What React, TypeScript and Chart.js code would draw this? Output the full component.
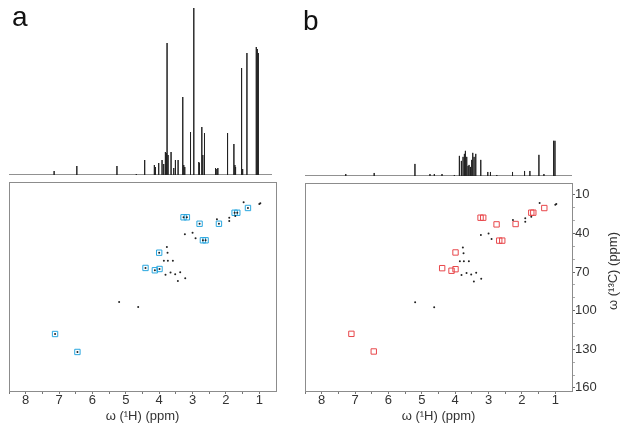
import React, { useEffect, useRef } from "react";
import { Chart, registerables } from "chart.js";
Chart.register(...registerables);

const FONT = "'Liberation Sans', Arial, Helvetica, sans-serif";

// ---- 1D 1H spectrum, panel a (ppm, intensity in arbitrary units) ----
const specA_ppm = [7.15, 6.47, 5.27, 4.69, 4.44, 4.15, 4.12, 4.02, 3.92, 3.87, 3.82, 3.79, 3.77, 3.74, 3.65, 3.57, 3.52, 3.44, 3.30, 3.27, 3.24, 3.08, 3.06, 2.97, 2.82, 2.80, 2.73, 2.70, 2.65, 2.32, 2.28, 2.25, 1.96, 1.77, 1.74, 1.72, 1.54, 1.52, 1.50, 1.38, 1.10, 1.07, 1.04];
const specA_int = [4, 9, 9, 1, 15, 10, 8, 12, 15, 11, 23, 22, 132, 20, 23, 7, 15, 15, 78, 10, 8, 43, 40, 167, 13, 12, 48, 20, 42, 7, 6, 7, 42, 31, 10, 8, 107, 6, 6, 122, 128, 126, 122];

// ---- 1D 1H spectrum, panel b ----
const specB_ppm = [7.26, 6.41, 5.19, 4.74, 4.61, 4.38, 4.01, 3.86, 3.80, 3.75, 3.71, 3.68, 3.64, 3.60, 3.57, 3.53, 3.49, 3.46, 3.42, 3.37, 3.22, 3.01, 2.93, 2.74, 2.27, 1.91, 1.75, 1.48, 1.33, 1.04, 1.00];
const specB_int = [2, 3, 12, 2, 2, 2, 1, 20, 15, 19, 22, 25, 19, 10, 11, 9, 16, 23, 19, 22, 16, 4, 4, 1, 4, 5, 5, 21, 2, 35, 35];

// ---- 2D HSQC cross peaks (1H ppm, 13C ppm) ----
const crossH = [1.47, 1.00, 0.97, 2.27, 1.90, 1.90, 1.72, 3.23, 3.00, 2.91, 3.77, 3.75, 3.86, 3.74, 3.59, 3.66, 3.81, 3.52, 3.37, 3.44, 3.22, 5.20, 4.63];
const crossC = [16.4, 17.7, 17.2, 29.6, 28.3, 30.9, 27.0, 41.2, 40.0, 44.3, 51.0, 55.4, 61.6, 61.6, 61.6, 70.8, 72.4, 72.0, 70.5, 77.3, 75.2, 93.5, 97.4];

// ---- highlighted peaks, panel a (blue) ----
const markAH = [3.27, 3.17, 2.79, 2.21, 1.74, 1.66, 1.34, 2.69, 2.61, 4.00, 4.41, 4.13, 3.99, 7.12, 6.45];
const markAC = [28.0, 28.0, 33.0, 33.0, 24.5, 24.5, 20.8, 45.8, 45.8, 55.4, 67.2, 69.0, 68.0, 118.3, 132.2];

// ---- highlighted peaks, panel b (red) ----
const markBH = [3.24, 3.16, 2.76, 2.19, 1.72, 1.66, 1.33, 2.68, 2.59, 3.99, 4.39, 3.99, 4.11, 7.11, 6.44];
const markBC = [27.8, 27.8, 33.0, 32.7, 23.9, 23.9, 20.3, 45.6, 45.6, 54.8, 67.0, 67.8, 69.0, 118.0, 131.7];

// ---- axes ----
const xMajorTicks = [1, 2, 3, 4, 5, 6, 7, 8];
const xMinorTicks = [1.5, 2.5, 3.5, 4.5, 5.5, 6.5, 7.5, 8.5];
const yMajorTicks = [10, 40, 70, 100, 130, 160];
const yMinorTicks = [20, 30, 50, 60, 80, 90, 110, 120, 140, 150];
const xRange2D = [0.5, 8.5];
const yRange2D = [0.7, 162.4];
const xTitle = "ω (¹H) (ppm)";
const yTitle = "ω (¹³C) (ppm)";
const panelLabels = ["a", "b"];

const BLUE = "#2aa7df";
const RED = "#e8474b";

function stickSeries(ppm: number[], inten: number[], hi: number, lo: number) {
  const pts: { x: number; y: number }[] = [{ x: hi, y: 0 }];
  const idx = ppm.map((_, i) => i).sort((a, b) => ppm[b] - ppm[a]);
  for (const i of idx) {
    pts.push({ x: ppm[i], y: 0 }, { x: ppm[i], y: inten[i] }, { x: ppm[i], y: 0 });
  }
  pts.push({ x: lo, y: 0 });
  return pts;
}

function pairs(h: number[], c: number[]) {
  return h.map((v, i) => ({ x: v, y: c[i] }));
}

const framePlugin = {
  id: "frame",
  afterDraw(chart: any) {
    const { ctx, chartArea: a } = chart;
    ctx.save();
    ctx.strokeStyle = "#8c8c8c";
    ctx.lineWidth = 1;
    ctx.strokeRect(Math.round(a.left) + 0.5, Math.round(a.top) + 0.5, Math.round(a.right - a.left), Math.round(a.bottom - a.top));
    ctx.restore();
  },
};

const yTitlePlugin = {
  id: "ytitle",
  afterDraw(chart: any) {
    const { ctx } = chart;
    ctx.save();
    ctx.translate(313, 96);
    ctx.rotate(-Math.PI / 2);
    ctx.fillStyle = "#333";
    ctx.font = `13px ${FONT}`;
    ctx.textAlign = "center";
    ctx.textBaseline = "middle";
    ctx.fillText(yTitle, 0, 0);
    ctx.restore();
  },
};

function xScale2D() {
  return {
    type: "linear",
    min: xRange2D[0],
    max: xRange2D[1],
    reverse: true,
    afterBuildTicks: (s: any) => {
      s.ticks = [...xMajorTicks, ...xMinorTicks].sort((p, q) => p - q).map((v) => ({ value: v }));
    },
    afterFit: (s: any) => {
      s.height = 42;
    },
    grid: { drawOnChartArea: false, drawTicks: true, tickLength: 3, color: "#777" },
    border: { display: false },
    ticks: {
      autoSkip: false,
      maxRotation: 0,
      padding: 0,
      color: "#333",
      font: { family: FONT, size: 13, lineHeight: 1 },
      callback: (v: any) => (xMajorTicks.includes(v) ? String(v) : ""),
    },
    title: {
      display: true,
      text: xTitle,
      color: "#333",
      font: { family: FONT, size: 13 },
      padding: { top: 0, bottom: 9 },
    },
  };
}

function ChartCanvas({ config, left, top, width, height }: any) {
  const ref = useRef<HTMLCanvasElement | null>(null);
  useEffect(() => {
    if (!ref.current) return;
    const ch = new Chart(ref.current, config);
    return () => ch.destroy();
  }, []);
  return (
    <canvas
      ref={ref}
      width={width}
      height={height}
      style={{ position: "absolute", left, top, width, height }}
    />
  );
}

function spectrumConfig(ppm: number[], inten: number[], hi: number, lo: number, pad: any) {
  return {
    type: "scatter",
    data: {
      datasets: [
        {
          data: stickSeries(ppm, inten, hi, lo),
          showLine: true,
          borderColor: "#222",
          borderWidth: 1,
          pointRadius: 0,
          tension: 0,
        },
      ],
    },
    options: {
      animation: false,
      responsive: false,
      layout: { padding: pad, autoPadding: false },
      plugins: { legend: { display: false }, tooltip: { enabled: false } },
      scales: {
        x: { type: "linear", display: false, min: lo, max: hi, reverse: true },
        y: { type: "linear", display: false, min: 0, max: 167 },
      },
    },
  };
}

function hsqcConfig(markH: number[], markC: number[], color: string, dotsInMarks: boolean, rightAxis: boolean) {
  const datasets: any[] = [
    {
      data: pairs(crossH, crossC),
      pointRadius: 1,
      pointBorderWidth: 0,
      backgroundColor: "#222",
      borderColor: "#222",
    },
  ];
  if (dotsInMarks) {
    datasets.push({
      data: pairs(markH, markC),
      pointRadius: 1,
      pointBorderWidth: 0,
      backgroundColor: "#222",
      borderColor: "#222",
    });
  }
  datasets.push({
    data: pairs(markH, markC),
    pointStyle: "rect",
    pointRadius: 3.8,
    borderWidth: 1,
    borderColor: color,
    backgroundColor: "rgba(255,255,255,0)",
  });
  const y: any = rightAxis
    ? {
        type: "linear",
        position: "right",
        min: yRange2D[0],
        max: yRange2D[1],
        reverse: true,
        afterBuildTicks: (s: any) => {
          s.ticks = [...yMajorTicks, ...yMinorTicks].sort((p, q) => p - q).map((v) => ({ value: v }));
        },
        afterFit: (s: any) => {
          s.width = 55;
        },
        grid: {
          drawOnChartArea: false,
          drawTicks: true,
          tickLength: 3,
          color: (c: any) => (c.tick && yMajorTicks.includes(c.tick.value) ? "#666" : "#aaa"),
        },
        border: { display: false },
        ticks: {
          autoSkip: false,
          padding: 0,
          color: "#333",
          font: { family: FONT, size: 13 },
          callback: (v: any) => (yMajorTicks.includes(v) ? String(v) : ""),
        },
      }
    : { type: "linear", display: false, min: yRange2D[0], max: yRange2D[1], reverse: true };
  return {
    type: "scatter",
    data: { datasets },
    options: {
      animation: false,
      responsive: false,
      layout: {
        padding: rightAxis ? { left: 5, top: 7, right: 0, bottom: 0 } : { left: 9, top: 7, right: 24, bottom: 0 },
        autoPadding: false,
      },
      plugins: { legend: { display: false }, tooltip: { enabled: false } },
      scales: { x: xScale2D(), y },
    },
    plugins: rightAxis ? [framePlugin, yTitlePlugin] : [framePlugin],
  };
}

export default function App() {
  const labelStyle: any = {
    position: "absolute",
    fontFamily: FONT,
    fontSize: 28,
    lineHeight: "28px",
    color: "#111",
  };
  return (
    <div style={{ position: "absolute", left: 0, top: 0, width: 627, height: 433, background: "#fff", overflow: "hidden" }}>
      <ChartCanvas
        left={0}
        top={0}
        width={300}
        height={176}
        config={spectrumConfig(specA_ppm, specA_int, 8.5, 0.63, { left: 9, right: 28, top: 8, bottom: 1 })}
      />
      <ChartCanvas
        left={300}
        top={0}
        width={327}
        height={177}
        config={spectrumConfig(specB_ppm, specB_int, 8.48, 0.49, { left: 5, right: 55, top: 8, bottom: 1 })}
      />
      <ChartCanvas left={0} top={175} width={300} height={258} config={hsqcConfig(markAH, markAC, BLUE, true, false)} />
      <ChartCanvas left={300} top={175} width={327} height={258} config={hsqcConfig(markBH, markBC, RED, false, true)} />
      <div style={{ ...labelStyle, left: 12, top: 3 }}>{panelLabels[0]}</div>
      <div style={{ ...labelStyle, left: 303, top: 7 }}>{panelLabels[1]}</div>
    </div>
  );
}
